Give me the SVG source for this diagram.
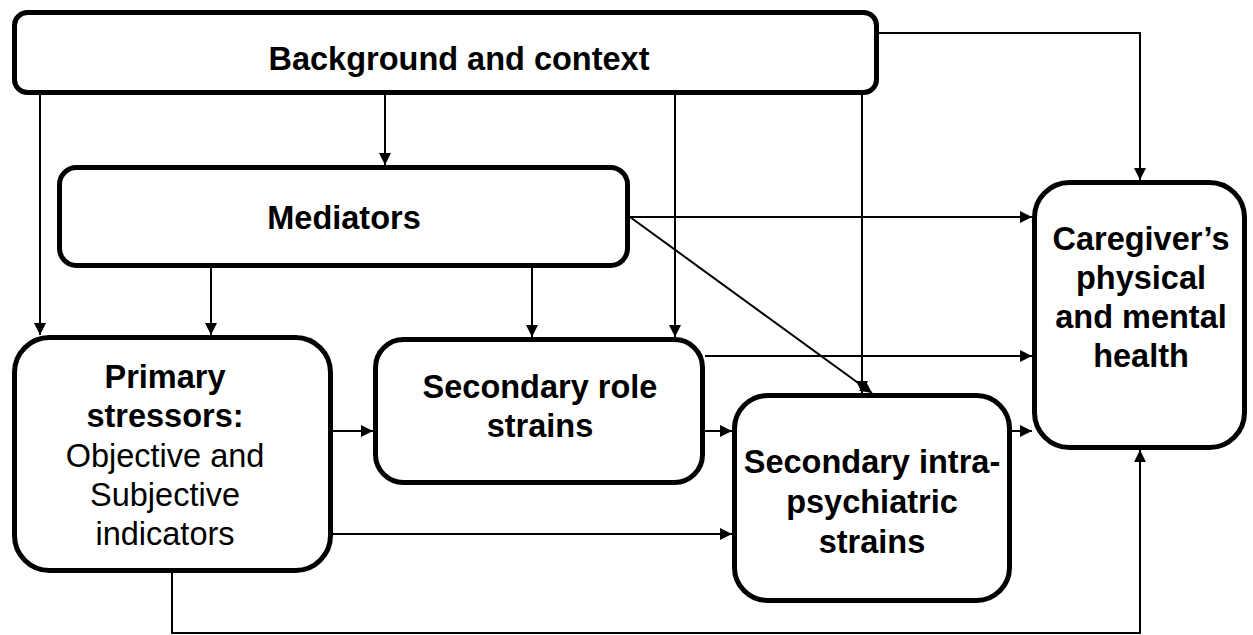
<svg xmlns="http://www.w3.org/2000/svg" width="1253" height="635" viewBox="0 0 1253 635">
  <style>
    .box { fill: #ffffff; stroke: #000000; stroke-width: 5; }
    .t { font-family: "Liberation Sans", Arial, sans-serif; font-size: 32.5px; fill: #000000; text-anchor: middle; }
    .b { font-weight: bold; }
    .c { fill: none; stroke: #000000; stroke-width: 2; }
  </style>
  <defs>
    <marker id="ah" markerUnits="userSpaceOnUse" markerWidth="12" markerHeight="12" refX="12" refY="6" orient="auto">
      <path d="M0,0 L12,6 L0,12 z" fill="#000000"/>
    </marker>
  </defs>
  <rect width="1253" height="635" fill="#ffffff"/>

  <g id="connectors">
    <line class="c" x1="385" y1="95" x2="385" y2="165" marker-end="url(#ah)"/>
    <line class="c" x1="40" y1="95" x2="40" y2="335" marker-end="url(#ah)"/>
    <line class="c" x1="675" y1="95" x2="675" y2="337" marker-end="url(#ah)"/>
    <line class="c" x1="862" y1="95" x2="862" y2="393" marker-end="url(#ah)"/>
    <path class="c" d="M879,33 H1140 V180" marker-end="url(#ah)"/>
    <line class="c" x1="211" y1="268" x2="211" y2="335" marker-end="url(#ah)"/>
    <line class="c" x1="532" y1="268" x2="532" y2="337" marker-end="url(#ah)"/>
    <line class="c" x1="630" y1="217" x2="1032" y2="217" marker-end="url(#ah)"/>
    <line class="c" x1="630" y1="217" x2="872" y2="393" marker-end="url(#ah)"/>
    <line class="c" x1="705" y1="356" x2="1032" y2="356" marker-end="url(#ah)"/>
    <line class="c" x1="333" y1="431" x2="373" y2="431" marker-end="url(#ah)"/>
    <line class="c" x1="705" y1="431" x2="732" y2="431" marker-end="url(#ah)"/>
    <line class="c" x1="1012" y1="431" x2="1032" y2="431" marker-end="url(#ah)"/>
    <line class="c" x1="333" y1="534" x2="732" y2="534" marker-end="url(#ah)"/>
    <path class="c" d="M172,573 V633 H1140 V450" marker-end="url(#ah)"/>
  </g>

  <g id="background">
    <rect class="box" x="14.5" y="12.5" width="862" height="80" rx="13"/>
    <text class="t b" x="459" y="70">Background and context</text>
  </g>

  <g id="mediators">
    <rect class="box" x="59.5" y="167.5" width="568" height="98" rx="17"/>
    <text class="t b" x="344" y="229">Mediators</text>
  </g>

  <g id="primary">
    <rect class="box" x="14.5" y="337.5" width="316" height="233" rx="35"/>
    <text class="t b" x="165" y="388">Primary</text>
    <text class="t b" x="165" y="427">stressors:</text>
    <text class="t" x="165" y="467">Objective and</text>
    <text class="t" x="165" y="506">Subjective</text>
    <text class="t" x="165" y="545">indicators</text>
  </g>

  <g id="secondary-role">
    <rect class="box" x="375.5" y="339.5" width="327" height="143" rx="28"/>
    <text class="t b" x="540" y="398">Secondary role</text>
    <text class="t b" x="540" y="437">strains</text>
  </g>

  <g id="secondary-intra">
    <rect class="box" x="734.5" y="395.5" width="275" height="205" rx="33"/>
    <text class="t b" x="872" y="473">Secondary intra-</text>
    <text class="t b" x="872" y="513">psychiatric</text>
    <text class="t b" x="872" y="553">strains</text>
  </g>

  <g id="caregiver">
    <rect class="box" x="1034.5" y="182.5" width="210" height="265" rx="35"/>
    <text class="t b" x="1141" y="250">Caregiver’s</text>
    <text class="t b" x="1141" y="289">physical</text>
    <text class="t b" x="1141" y="328">and mental</text>
    <text class="t b" x="1141" y="367">health</text>
  </g>
</svg>
